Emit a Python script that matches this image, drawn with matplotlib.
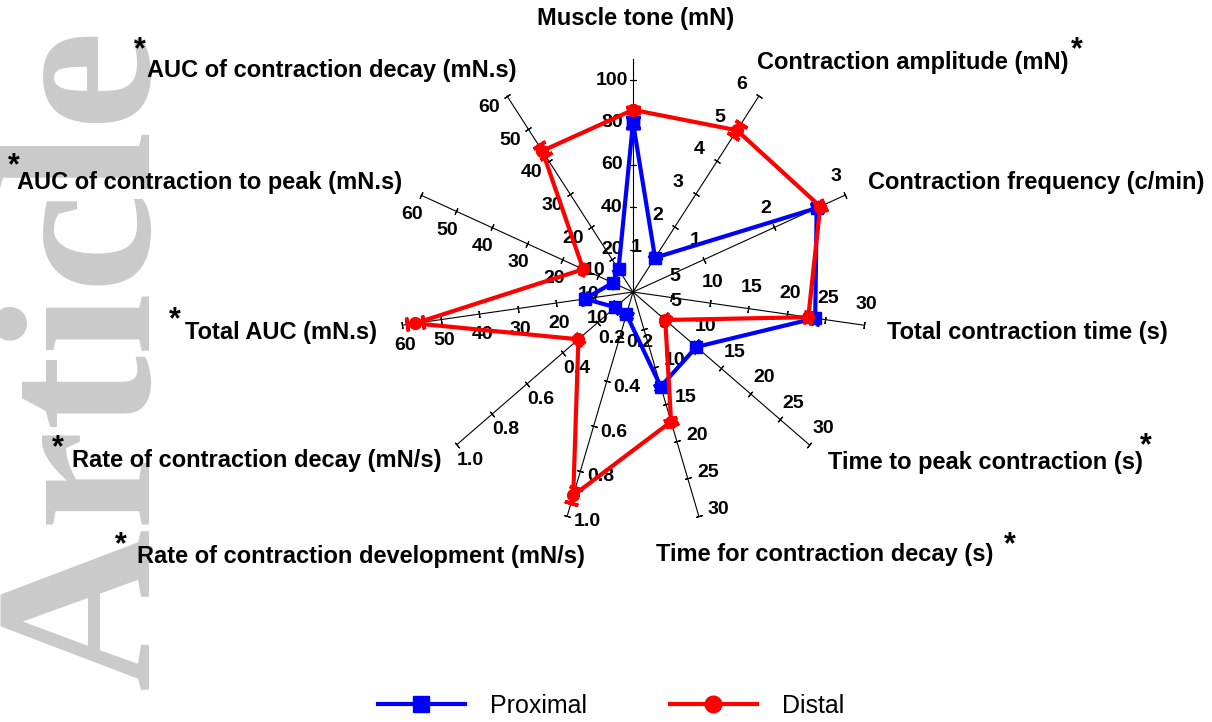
import numpy as np
import matplotlib
matplotlib.use("Agg")
import matplotlib.pyplot as plt
from matplotlib.lines import Line2D

plt.rcParams['font.family'] = ['Liberation Sans', 'DejaVu Sans']

# ---------------- data ----------------
axis_titles = ["Muscle tone (mN)", "Contraction amplitude (mN)", "Contraction frequency (c/min)",
               "Total contraction time (s)", "Time to peak contraction (s)",
               "Time for contraction decay (s)", "Rate of contraction development (mN/s)",
               "Rate of contraction decay (mN/s)", "Total AUC (mN.s)",
               "AUC of contraction to peak (mN.s)", "AUC of contraction decay (mN.s)"]
significant = [False, True, False, False, True, True, True, True, True, True, True]
axis_max = [110, 6, 3, 30, 30, 30, 1.0, 1.0, 60, 60, 60]
axis_ticks = [[20, 40, 60, 80, 100], [1, 2, 3, 4, 5, 6], [1, 2, 3],
              [5, 10, 15, 20, 25, 30], [5, 10, 15, 20, 25, 30], [5, 10, 15, 20, 25, 30],
              [0.2, 0.4, 0.6, 0.8, 1.0], [0.2, 0.4, 0.6, 0.8, 1.0],
              [10, 20, 30, 40, 50, 60], [10, 20, 30, 40, 50, 60], [10, 20, 30, 40, 50, 60]]
proximal = [80, 1.05, 2.6, 23.7, 10.8, 12.7, 0.10, 0.10, 12.5, 5.7, 6.9]
proximal_err = [2.5, 0.05, 0.04, 0.4, 0.3, 0.3, 0.01, 0.01, 0.8, 0.3, 0.4]
distal = [86, 4.95, 2.65, 22.8, 5.5, 17.4, 0.91, 0.31, 56.7, 14.1, 43.2]
distal_err = [1.5, 0.18, 0.05, 0.4, 0.3, 0.4, 0.035, 0.01, 2.0, 0.4, 1.7]
series_names = ["Proximal", "Distal"]

# ---------------- layout ----------------
W, H = 1212, 722
cx, cy, R = 633, 292, 233
fig = plt.figure(figsize=(W / 100, H / 100), dpi=100)

# watermark
fig.text(196 / W, 1 - 358 / H, "Article", rotation=90, ha='right', va='center',
         fontsize=162, fontweight='bold', family='Liberation Serif', color='#cacaca', zorder=0)

ax = fig.add_axes([(cx - R) / W, (H - cy - R) / H, 2 * R / W, 2 * R / H], projection='polar')
ax.set_theta_zero_location('N')
ax.set_theta_direction(-1)
ax.set_ylim(0, 1)
ax.axis('off')
ax.patch.set_alpha(0)

n = len(axis_titles)
thetas = np.arange(n) * 2 * np.pi / n
offset_px = 21

for i in range(n):
    th = thetas[i]
    phi = 90 - np.degrees(th)  # math angle
    ax.plot([th, th], [0, 1], color='black', lw=0.8, clip_on=False, zorder=1)
    tk = np.array(axis_ticks[i], dtype=float)
    ax.plot(np.full(len(tk), th), tk / axis_max[i], ls='none', marker=(2, 2, phi),
            ms=5, mew=0.8, color='black', clip_on=False, zorder=1)
    nrm = np.radians(phi + 90)
    d = offset_px * 0.72
    for t in axis_ticks[i]:
        lab = f"{t:.1f}" if axis_max[i] <= 1 else f"{int(t)}"
        ax.annotate(lab, xy=(th, t / axis_max[i]), xytext=(d * np.cos(nrm), d * np.sin(nrm)),
                    textcoords='offset points', ha='center', va='center',
                    fontsize=14, fontweight='bold', annotation_clip=False, zorder=2)

def draw_series(vals, errs, color, marker, z):
    r = np.array(vals) / np.array(axis_max)
    e = np.array(errs) / np.array(axis_max)
    th_c = np.append(thetas, thetas[0])
    r_c = np.append(r, r[0])
    ax.plot(th_c, r_c, color=color, lw=3, marker=marker, ms=8.5, clip_on=False, zorder=z)
    for i in range(n):
        phi = 90 - np.degrees(thetas[i])
        ax.plot([thetas[i], thetas[i]], [r[i] - e[i], r[i] + e[i]], color=color, lw=2.5,
                clip_on=False, zorder=z)
        ax.plot([thetas[i], thetas[i]], [r[i] - e[i], r[i] + e[i]], ls='none',
                marker=(2, 2, phi), ms=10, mew=2.5, color=color, clip_on=False, zorder=z)

draw_series(distal, distal_err, '#ff0000', 'o', 4)
draw_series(proximal, proximal_err, '#0000ff', 's', 3)

# axis titles (x, center y in px)
title_pos = [(636, 18, 'center'), (757, 63, 'left'), (868, 182, 'left'), (887, 332, 'left'),
             (828, 462, 'left'), (656, 555, 'left'), (137, 557, 'left'), (72, 460, 'left'),
             (185, 332, 'left'), (17, 182, 'left'), (147, 70, 'left')]
star_pos = [None, (1077, 50), None, None, (1146, 446), (1010, 545), (121, 545), (58, 448),
            (175, 320), (14, 166), (140, 50)]
for i in range(n):
    x, y, ha = title_pos[i]
    fig.text(x / W, 1 - y / H, axis_titles[i], ha=ha, va='center', fontsize=17, fontweight='bold')
    if significant[i] and star_pos[i] is not None:
        sx, sy = star_pos[i]
        fig.text(sx / W, 1 - sy / H, "*", ha='center', va='center', fontsize=22, fontweight='bold')

handles = [Line2D([], [], color='#0000ff', lw=3, marker='s', ms=12),
           Line2D([], [], color='#ff0000', lw=3, marker='o', ms=12)]
fig.legend(handles, series_names, loc='center', bbox_to_anchor=(611 / W, 16 / H), ncol=2,
           frameon=False, fontsize=18, handlelength=3.5, handletextpad=1.0, columnspacing=3.3)

fig.savefig("out.png", dpi=100)
